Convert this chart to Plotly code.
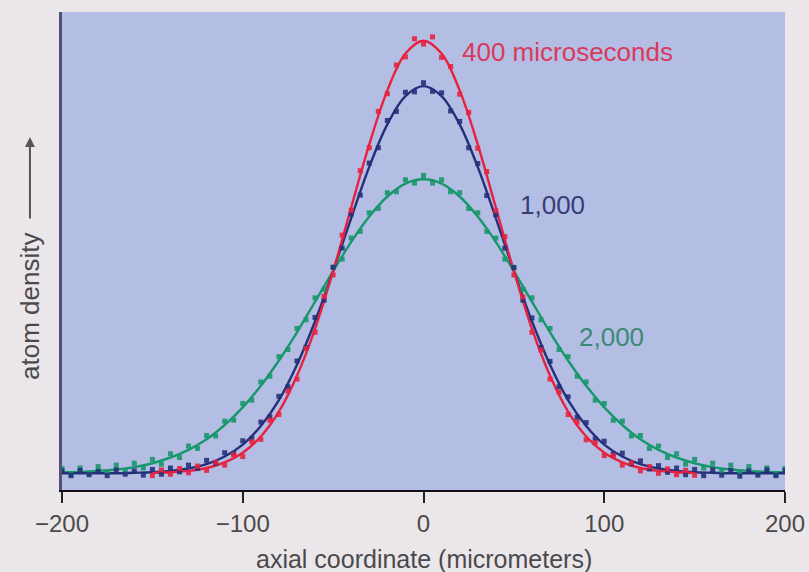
import plotly.graph_objects as go

# ---- data ----
x_pts = list(range(-200, 201, 5))
x_pts_red = list(range(-150, 151, 5))
x_fit = list(range(-200, 201, 10))
x_fit_red = list(range(-150, 151, 10))

red_pts = [0.030, 0.042, 0.033, 0.045, 0.036, 0.050, 0.041, 0.058, 0.052, 0.074,
           0.070, 0.101, 0.106, 0.146, 0.158, 0.207, 0.232, 0.296, 0.330, 0.405,
           0.450, 0.533, 0.585, 0.668, 0.716, 0.792, 0.829, 0.889, 0.906, 0.944,
           0.933,
           0.948, 0.905, 0.886, 0.828, 0.790, 0.715, 0.666, 0.584, 0.530, 0.450,
           0.404, 0.330, 0.293, 0.232, 0.205, 0.158, 0.142, 0.105, 0.099, 0.072,
           0.072, 0.052, 0.057, 0.040, 0.049, 0.035, 0.044, 0.032, 0.041, 0.031]

navy_pts = [0.040, 0.030, 0.041, 0.032, 0.039, 0.030, 0.042, 0.033, 0.040, 0.031,
            0.043, 0.033, 0.046, 0.038, 0.052, 0.045, 0.062, 0.056, 0.078, 0.076,
            0.103, 0.108, 0.142, 0.153, 0.196, 0.216, 0.270, 0.298, 0.361, 0.397,
            0.466, 0.506, 0.577, 0.617, 0.684, 0.716, 0.773, 0.792, 0.832, 0.833,
            0.852,
            0.834, 0.831, 0.793, 0.771, 0.716, 0.683, 0.616, 0.576, 0.506, 0.465,
            0.397, 0.360, 0.298, 0.269, 0.216, 0.195, 0.152, 0.141, 0.107, 0.102,
            0.075, 0.077, 0.055, 0.061, 0.044, 0.051, 0.037, 0.046, 0.032, 0.043,
            0.030, 0.042, 0.031, 0.041, 0.029, 0.040, 0.031, 0.042, 0.030, 0.041]

green_pts = [0.045, 0.032, 0.046, 0.035, 0.049, 0.037, 0.052, 0.040, 0.056, 0.046,
             0.064, 0.054, 0.076, 0.068, 0.092, 0.087, 0.114, 0.113, 0.144, 0.146,
             0.181, 0.188, 0.226, 0.238, 0.279, 0.294, 0.338, 0.356, 0.402, 0.420,
             0.466, 0.483, 0.527, 0.541, 0.580, 0.589, 0.622, 0.624, 0.649, 0.642,
             0.658,
             0.642, 0.649, 0.624, 0.622, 0.589, 0.580, 0.541, 0.527, 0.483, 0.466,
             0.420, 0.402, 0.356, 0.338, 0.294, 0.279, 0.238, 0.226, 0.188, 0.181,
             0.146, 0.144, 0.113, 0.114, 0.087, 0.092, 0.068, 0.076, 0.054, 0.064,
             0.046, 0.056, 0.040, 0.052, 0.037, 0.049, 0.035, 0.046, 0.032, 0.045]

red_fit = [0.036, 0.037, 0.040, 0.046, 0.058, 0.078, 0.112, 0.164, 0.239, 0.337,
           0.458, 0.591, 0.723, 0.836, 0.913, 0.940, 0.913, 0.836, 0.723, 0.591,
           0.458, 0.337, 0.239, 0.164, 0.112, 0.078, 0.058, 0.046, 0.040, 0.037,
           0.036]

navy_fit = [0.035, 0.035, 0.035, 0.035, 0.036, 0.037, 0.040, 0.045, 0.054, 0.070,
            0.095, 0.134, 0.188, 0.262, 0.353, 0.458, 0.569, 0.676, 0.765, 0.824,
            0.845,
            0.824, 0.765, 0.676, 0.569, 0.458, 0.353, 0.262, 0.188, 0.134, 0.095,
            0.070, 0.054, 0.045, 0.040, 0.037, 0.036, 0.035, 0.035, 0.035, 0.035]

green_fit = [0.037, 0.038, 0.040, 0.043, 0.048, 0.056, 0.068, 0.084, 0.106, 0.136,
             0.173, 0.218, 0.271, 0.330, 0.394, 0.458, 0.519, 0.572, 0.614, 0.641,
             0.650,
             0.641, 0.614, 0.572, 0.519, 0.458, 0.394, 0.330, 0.271, 0.218, 0.173,
             0.136, 0.106, 0.084, 0.068, 0.056, 0.048, 0.043, 0.040, 0.038, 0.037]

x_ticks = [-200, -100, 0, 100, 200]
x_tick_labels = ["\u2212200", "\u2212100", "0", "100", "200"]

RED = "#e6223f"
NAVY = "#25307a"
GREEN = "#17976c"
PAPER = "#ebe6ea"
FONT = "Liberation Sans, Arial, sans-serif"

fig = go.Figure()

for xs, ys, col in [(x_fit, green_fit, GREEN), (x_fit, navy_fit, NAVY), (x_fit_red, red_fit, RED)]:
    fig.add_trace(go.Scatter(x=xs, y=ys, mode="lines", line=dict(color=col, width=2.4, shape="spline"),
                             hoverinfo="skip", showlegend=False))

for xs, ys, col in [(x_pts, green_pts, GREEN), (x_pts, navy_pts, NAVY), (x_pts_red, red_pts, RED)]:
    fig.add_trace(go.Scatter(x=xs, y=ys, mode="markers",
                             marker=dict(color=col, size=5, symbol="square", opacity=0.9),
                             showlegend=False))

fig.update_layout(
    width=809, height=572, autosize=False,
    margin=dict(l=62, r=24, t=12, b=82, autoexpand=False),
    paper_bgcolor=PAPER,
    plot_bgcolor="#b4bde3",
    font=dict(family=FONT, size=25, color="#4a4a4a"),
    showlegend=False,
)

fig.update_xaxes(range=[-200, 200], tickmode="array", tickvals=x_ticks, ticktext=x_tick_labels,
                 ticks="outside", ticklen=11, tickwidth=2, tickcolor="#222",
                 showline=True, linecolor="#111", linewidth=2,
                 showgrid=False, zeroline=False, automargin=False,
                 tickfont=dict(size=24, color="#4a4a4a"))
fig.update_yaxes(range=[0, 1], showticklabels=False, ticks="", showgrid=False, zeroline=False,
                 showline=True, linecolor="#4e5472", linewidth=3, automargin=False)

annos = [
    dict(x=20.2, y=0.916, xref="x", yref="y", text="400 microseconds", showarrow=False,
         xanchor="left", yanchor="middle", font=dict(size=26, color="#d83a5c")),
    dict(x=52.3, y=0.596, xref="x", yref="y", text="1,000", showarrow=False,
         xanchor="left", yanchor="middle", font=dict(size=26, color="#373d78")),
    dict(x=84.9, y=0.32, xref="x", yref="y", text="2,000", showarrow=False,
         xanchor="left", yanchor="middle", font=dict(size=26, color="#3a8a76")),
    dict(x=0.5, y=-0.144, xref="paper", yref="paper", text="axial coordinate (micrometers)",
         showarrow=False, xanchor="center", yanchor="middle", font=dict(size=25, color="#4a4a4a")),
    dict(x=-0.0443, y=0.385, xref="paper", yref="paper", text="atom density", textangle=-90,
         showarrow=False, xanchor="center", yanchor="middle", font=dict(size=26, color="#4a4a4a")),
    dict(x=-0.0443, y=0.7385, xref="paper", yref="paper", text="", showarrow=True,
         ax=0, ay=83, axref="pixel", ayref="pixel", arrowhead=2, arrowsize=1, arrowwidth=2,
         arrowcolor="#555"),
]
fig.update_layout(annotations=annos)

fig.write_html(
    "out.html",
    config={"responsive": False, "displayModeBar": False},
    post_script=("document.body.style.margin='0';document.body.style.overflow='hidden';"
                 "document.body.style.background='" + PAPER + "';"),
)
